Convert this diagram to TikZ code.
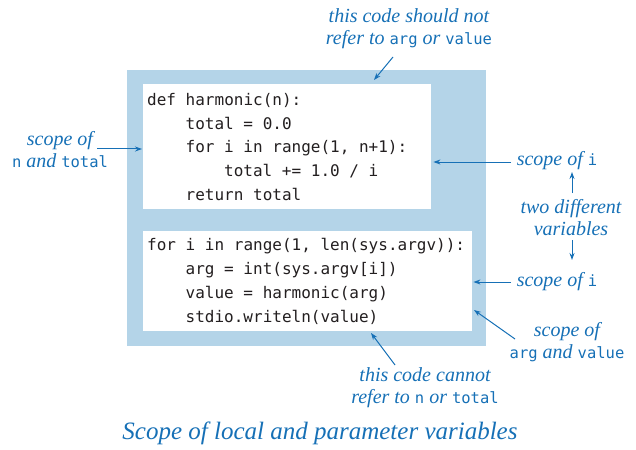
\documentclass[tikz,border=0pt]{standalone}
\usepackage{fontspec}
\setmainfont{Liberation Serif}
\setmonofont{DejaVu Sans Mono}
\usetikzlibrary{arrows.meta}
\definecolor{noteblue}{RGB}{22,112,182}
\definecolor{scopeblue}{RGB}{180,212,232}
\definecolor{codeink}{RGB}{35,31,32}
% identifiers inside the italic notes
\newcommand{\codeword}[1]{{\upshape\ttfamily\fontsize{15.5}{22}\selectfont #1}}

\begin{document}
\begin{tikzpicture}[x=1pt,y=-1pt,
  note/.style={text=noteblue, font=\fontsize{20}{22}\selectfont\itshape, align=center, inner sep=0pt},
  caption/.style={text=noteblue, font=\fontsize{25}{30}\selectfont\itshape, inner sep=0pt},
  codeline/.style={anchor=base west, inner sep=0pt, text=codeink, font=\fontsize{16}{20}\selectfont\ttfamily},
  whitebox/.style={fill=white, draw=none, anchor=north west, inner sep=0pt},
  pointer/.style={draw=noteblue, line width=1pt, -{Stealth[length=7pt,width=5pt]}},
]
\useasboundingbox (0,0) rectangle (636,449);

% outer scope of the whole program
\fill[scopeblue] (127,70) rectangle (486,346);

% function body and main code
\node[whitebox, minimum width=288pt, minimum height=125pt] (upper) at (143,84) {};
\node[whitebox, minimum width=329pt, minimum height=100pt] (lower) at (143,231) {};

\node[codeline] (u1) at (147,106) {def harmonic(n):};
\node[codeline] (u2) at (185.5,129.5) {total = 0.0};
\node[codeline] (u3) at (185.5,153) {for i in range(1, n+1):};
\node[codeline] (u4) at (224,176.5) {total += 1.0 / i};
\node[codeline] (u5) at (185.5,200) {return total};

\node[codeline] (l1) at (147,250) {for i in range(1, len(sys.argv)):};
\node[codeline] (l2) at (185.5,274) {arg = int(sys.argv[i])};
\node[codeline] (l3) at (185.5,298) {value = harmonic(arg)};
\node[codeline] (l4) at (185.5,322) {stdio.writeln(value)};

% annotations
\node[note] (topnote) at (409,29) {this code should not\\refer to \codeword{arg} or \codeword{value}};
\node[note] (leftnote) at (60,149.5) {scope of\\\codeword{n} and \codeword{total}};
\node[note] (scopeia) at (557,161) {scope of \codeword{i}};
\node[note] (twovars) at (571,217.5) {two different\\variables};
\node[note] (scopeib) at (557,282) {scope of \codeword{i}};
\node[note] (argval) at (567,342) {scope of\\\codeword{arg} and \codeword{value}};
\node[note] (bottomnote) at (425,388) {this code cannot\\refer to \codeword{n} or \codeword{total}};
\node[caption] (title) at (320,433) {Scope of local and parameter variables};

% arrow ends
\coordinate (toptail) at (393,57);
\coordinate (toptip) at (374,80);
\coordinate (lefttail) at (97,149);
\coordinate (iatail) at (511,162);
\coordinate (ibtail) at (511,282);
\coordinate (uptail) at (572,193);
\coordinate (uptip) at (572,172);
\coordinate (downtail) at (572,240);
\coordinate (downtip) at (572,260);
\coordinate (avtail) at (515,339);
\coordinate (avtip) at (474,310);
\coordinate (bottail) at (395,365);
\coordinate (bottip) at (371,333);

\draw[pointer] (toptail) -- (toptip);
\draw[pointer] (lefttail) -- ([xshift=-1pt]upper.west |- lefttail);
\draw[pointer] (iatail) -- ([xshift=2pt]upper.east |- iatail);
\draw[pointer] (ibtail) -- ([xshift=1pt]lower.east |- ibtail);
\draw[pointer] (uptail) -- (uptip);
\draw[pointer] (downtail) -- (downtip);
\draw[pointer] (avtail) -- (avtip);
\draw[pointer] (bottail) -- (bottip);
\end{tikzpicture}
\end{document}
